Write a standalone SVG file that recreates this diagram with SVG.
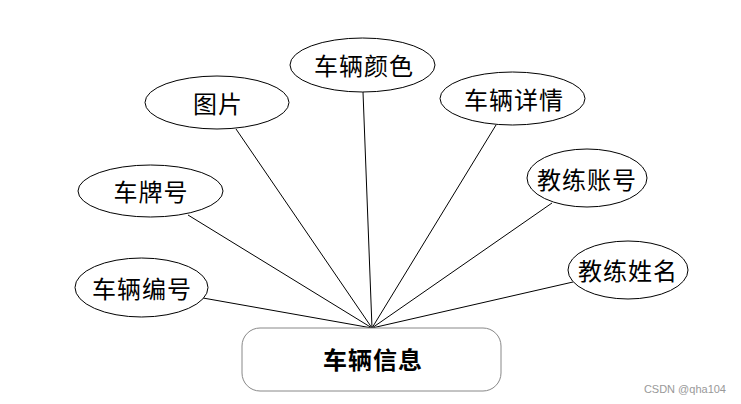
<svg xmlns="http://www.w3.org/2000/svg" width="741" height="404" viewBox="0 0 741 404">
<style>
.e{fill:#fff;stroke:#000;stroke-width:1}
.t{font-family:"Noto Sans CJK SC","Noto Sans",sans-serif;font-size:24px;letter-spacing:1px;fill:#000;text-anchor:middle;dominant-baseline:central}
.c line{stroke:#000;stroke-width:1}
</style>
<rect width="741" height="404" fill="#fff"/>
<g class="c" id="connectors">
<line x1="363" y1="92" x2="372" y2="328"/>
<line x1="236" y1="129" x2="372" y2="328"/>
<line x1="188" y1="215" x2="372" y2="328"/>
<line x1="203" y1="298" x2="372" y2="328"/>
<line x1="496" y1="125" x2="372" y2="328"/>
<line x1="552" y1="203" x2="372" y2="328"/>
<line x1="573" y1="282" x2="372" y2="328"/>
</g>
<g id="n-yanse"><ellipse class="e" cx="362.5" cy="65" rx="72.5" ry="27"/><text class="t" x="364" y="64">车辆颜色</text></g>
<g id="n-tupian"><ellipse class="e" cx="217" cy="102.5" rx="72" ry="26.5"/><text class="t" x="218" y="102">图片</text></g>
<g id="n-chepai"><ellipse class="e" cx="150.5" cy="191" rx="72.5" ry="26"/><text class="t" x="151" y="190" letter-spacing="3">车牌号</text></g>
<g id="n-bianhao"><ellipse class="e" cx="141.5" cy="287.5" rx="66.5" ry="29.5"/><text class="t" x="142" y="287">车辆编号</text></g>
<g id="n-xiangqing"><ellipse class="e" cx="512.5" cy="98.5" rx="72.5" ry="26.5"/><text class="t" x="514" y="98">车辆详情</text></g>
<g id="n-zhanghao"><ellipse class="e" cx="587" cy="178" rx="60" ry="29"/><text class="t" x="587" y="178">教练账号</text></g>
<g id="n-xingming"><ellipse class="e" cx="628" cy="270" rx="60" ry="29"/><text class="t" x="628" y="269">教练姓名</text></g>
<g id="n-main"><rect x="242" y="328" width="259" height="63" rx="18" ry="18" fill="#fff" stroke="#888" stroke-width="1"/><text class="t" x="373" y="358" font-weight="bold" letter-spacing="3">车辆信息</text></g>
<text x="726" y="389" font-family="'Liberation Sans',sans-serif" font-size="11" fill="#999" text-anchor="end" dominant-baseline="central">CSDN @qha104</text>
</svg>
